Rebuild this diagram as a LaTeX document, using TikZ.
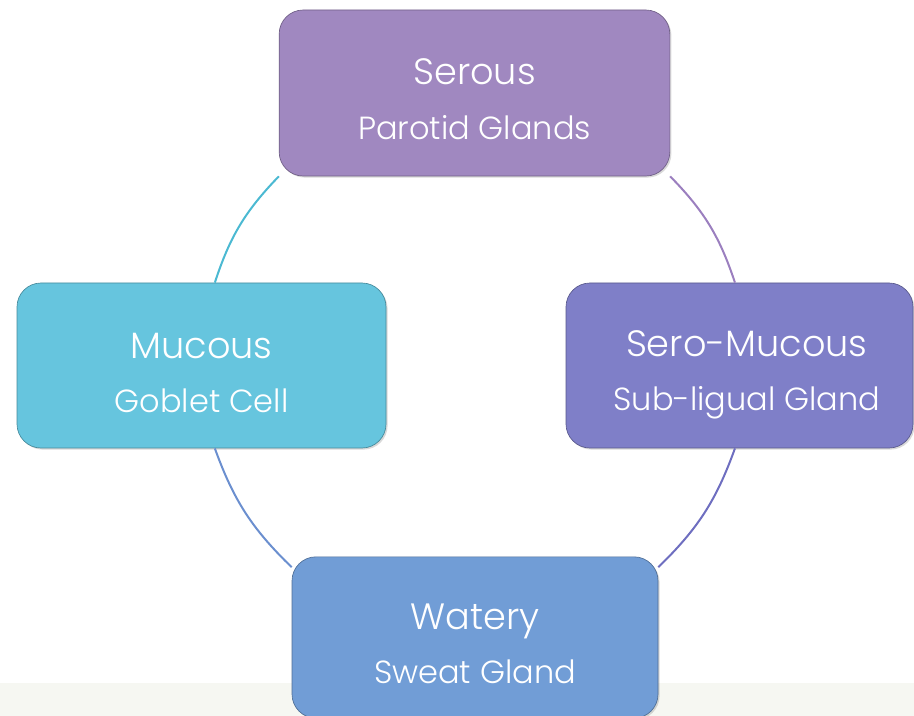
\documentclass[tikz,border=0pt]{standalone}
\usepackage{fontspec}
\setmainfont{Poppins}[UprightFont=* Light]
\usetikzlibrary{shadows}

\definecolor{serousC}{RGB}{160,136,192}
\definecolor{mucousC}{RGB}{102,197,222}
\definecolor{seroC}{RGB}{127,127,200}
\definecolor{wateryC}{RGB}{113,157,214}
\definecolor{bandC}{RGB}{246,247,242}
\definecolor{ringTL}{RGB}{75,185,210}
\definecolor{ringTR}{RGB}{155,127,191}
\definecolor{ringBL}{RGB}{107,143,207}
\definecolor{ringBR}{RGB}{110,110,192}

\tikzset{
  gland/.style={fill=#1, draw=#1!70!black, line width=0.5pt, rounded corners=18pt,
    inner sep=0pt, drop shadow={opacity=0.3, shadow xshift=1.2pt, shadow yshift=-1.2pt}},
  glandtxt/.style={text=white, align=center, font=\fontsize{24}{41}\selectfont},
  ring/.style={draw=#1, line width=1.5pt},
}

\begin{document}
\begin{tikzpicture}[x=0.75pt,y=0.75pt,yscale=-1,xscale=1]
\path[use as bounding box, clip] (0,0) rectangle (914,716);

% band at the bottom
\fill[bandC] (0,683) rectangle (914,716);

% boxes
\node[gland=serousC, minimum width=293pt, minimum height=124.5pt] (serous) at (474.5,93) {};
\node[gland=mucousC, minimum width=276.75pt, minimum height=123.75pt] (mucous) at (201.5,365.5) {};
\node[gland=seroC, minimum width=260.25pt, minimum height=123.75pt] (seromucous) at (739.5,365.5) {};
\node[gland=wateryC, minimum width=274.5pt, minimum height=121pt] (watery) at (475,637.5) {};

% texts
\node[glandtxt] (serous-t) at ([yshift=4.7pt]serous.center) {{\fontsize{27.5}{41}\selectfont Serous}\\Parotid Glands};
\node[glandtxt] (mucous-t) at ([yshift=5.5pt]mucous.center) {{\fontsize{27.5}{41}\selectfont Mucous}\\Goblet Cell};
\node[glandtxt] (seromucous-t) at ([xshift=5.5pt,yshift=7pt]seromucous.center) {{\fontsize{27.5}{41}\selectfont Sero-Mucous}\\Sub-ligual Gland};
\node[glandtxt] (watery-t) at ([yshift=4.7pt]watery.center) {{\fontsize{27.5}{41}\selectfont Watery}\\Sweat Gland};

% ring
\draw[ring=ringTL] (serous.south west) to[bend left=13] ([xshift=10pt]mucous.north);
\draw[ring=ringTR] (serous.south east) to[bend right=13] ([xshift=-3.4pt]seromucous.north);
\draw[ring=ringBL] ([xshift=10pt]mucous.south) to[bend left=13] ([yshift=8pt]watery.north west);
\draw[ring=ringBR] ([xshift=-3.4pt]seromucous.south) to[bend right=13] ([yshift=8pt]watery.north east);

\end{tikzpicture}
\end{document}
